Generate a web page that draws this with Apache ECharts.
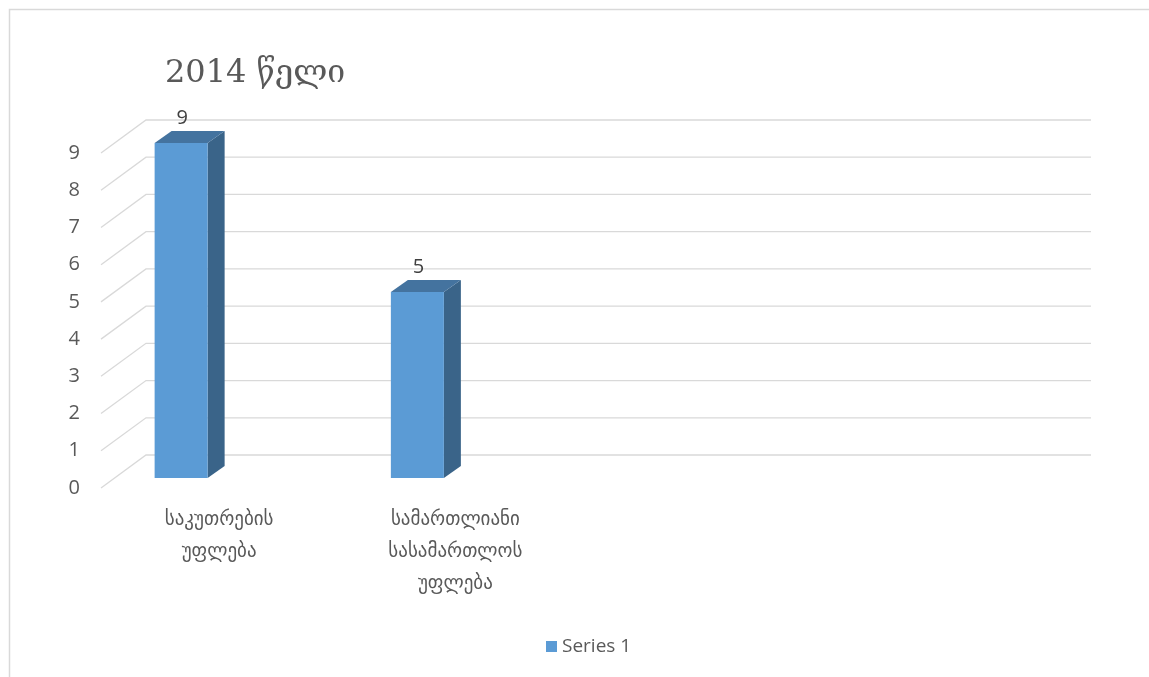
<!DOCTYPE html>
<html>
<head>
<meta charset="utf-8">
<title>2014 წელი</title>
<script src="https://cdn.jsdelivr.net/npm/echarts@6/dist/echarts.min.js"></script>
<style>
  html, body { margin: 0; padding: 0; background: #ffffff; }
  #chart { width: 1149px; height: 677px; }
</style>
</head>
<body>
<div id="chart"></div>
<script>
// Chart data
const titleText = '2014 წელი';
const seriesName = 'Series 1';
const categories = [
  'საკუთრების\nუფლება',
  'სამართლიანი\nსასამართლოს\nუფლება',
  '',
  ''
];
const values = [9, 5, null, null];
const yTicks = [0, 1, 2, 3, 4, 5, 6, 7, 8, 9];

// 3D look: floor depth, bar depth and the bar plane offset
const FLOOR_DX = 45, FLOOR_DY = -33;
const BAR_DX = 17, BAR_DY = -12;
const PLANE_DX = -38, PLANE_DY = -10;
const BAR_W = 53;

const FRONT = '#5B9BD5';
const TOP = '#44739F';
const SIDE = '#3A6489';
const GRID = '#D9D9D9';
const TEXT = '#595959';

const chart = echarts.init(document.getElementById('chart'));

const gridSeries = {
  type: 'custom',
  silent: true,
  z: 1,
  data: yTicks.map(v => [0, v]),
  renderItem: function (params, api) {
    const cs = params.coordSys;
    const y = api.coord([0, api.value(1)])[1];
    const x0 = cs.x, x1 = cs.x + cs.width;
    return {
      type: 'polyline',
      shape: {
        points: [[x0, y], [x0 + FLOOR_DX, y + FLOOR_DY], [x1 + FLOOR_DX, y + FLOOR_DY]]
      },
      style: { stroke: GRID, lineWidth: 1.3, fill: null }
    };
  }
};

const barSeries = {
  type: 'custom',
  name: seriesName,
  z: 3,
  itemStyle: { color: FRONT },
  data: values.map((v, i) => [i, v]),
  renderItem: function (params, api) {
    const v = api.value(1);
    if (v == null || isNaN(v)) return null;
    const i = api.value(0);
    const topPt = api.coord([i, v]);
    const basePt = api.coord([i, 0]);
    const cx = topPt[0] + PLANE_DX;
    const xl = cx - BAR_W / 2, xr = cx + BAR_W / 2;
    const yt = topPt[1] + PLANE_DY, yb = basePt[1] + PLANE_DY;
    return {
      type: 'group',
      children: [
        {
          type: 'polygon',
          shape: { points: [[xr, yt], [xr + BAR_DX, yt + BAR_DY], [xr + BAR_DX, yb + BAR_DY], [xr, yb]] },
          style: { fill: SIDE }
        },
        {
          type: 'polygon',
          shape: { points: [[xl, yt], [xl + BAR_DX, yt + BAR_DY], [xr + BAR_DX, yt + BAR_DY], [xr, yt]] },
          style: { fill: TOP }
        },
        {
          type: 'rect',
          shape: { x: xl, y: yt, width: BAR_W, height: yb - yt },
          style: { fill: FRONT }
        },
        {
          type: 'text',
          style: {
            text: String(v),
            x: cx + 1,
            y: yt + BAR_DY - 13,
            align: 'center',
            verticalAlign: 'middle',
            fill: '#404040',
            font: '20px "Open Sans", sans-serif'
          }
        }
      ]
    };
  }
};

chart.setOption({
  animation: false,
  backgroundColor: '#ffffff',
  title: {
    text: titleText,
    left: 160,
    top: 53,
    textStyle: {
      color: TEXT,
      fontSize: 32,
      fontWeight: 'normal',
      fontFamily: '"DejaVu Serif", "Liberation Serif", serif'
    }
  },
  legend: {
    data: [{ name: seriesName, icon: 'rect' }],
    left: 541,
    top: 632,
    itemWidth: 11,
    itemHeight: 11,
    itemGap: 7,
    textStyle: { color: TEXT, fontSize: 19, fontFamily: '"Open Sans", sans-serif' }
  },
  graphic: [{
    type: 'rect',
    silent: true,
    shape: { x: 9.5, y: 9.5, width: 1160, height: 700 },
    style: { fill: null, stroke: GRID, lineWidth: 1.5 }
  }],
  grid: { left: 101, right: 103, top: 153, bottom: 189 },
  xAxis: {
    type: 'category',
    data: categories,
    axisLine: { show: false },
    axisTick: { show: false },
    axisLabel: {
      interval: 0,
      margin: 16,
      color: TEXT,
      fontSize: 19,
      lineHeight: 32,
      fontFamily: '"DejaVu Sans", sans-serif'
    }
  },
  yAxis: {
    type: 'value',
    min: 0,
    max: 9,
    interval: 1,
    axisLine: { show: false },
    axisTick: { show: false },
    splitLine: { show: false },
    axisLabel: {
      margin: 21,
      color: TEXT,
      fontSize: 20,
      fontFamily: '"Open Sans", sans-serif'
    }
  },
  series: [gridSeries, barSeries]
});
</script>
</body>
</html>
